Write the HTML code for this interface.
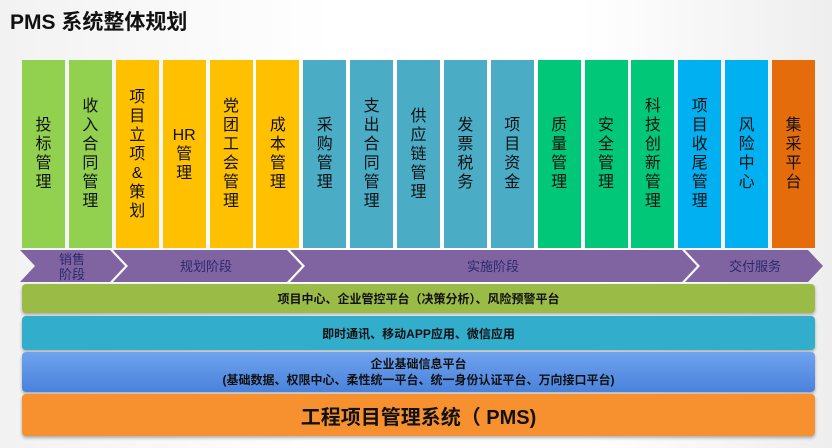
<!DOCTYPE html>
<html><head><meta charset="utf-8"><style>
body{margin:0;width:832px;height:448px;overflow:hidden;background:linear-gradient(90deg,#f2f2f2,#fff 40%,#fff 70%,#eee);font-family:"Liberation Sans","Noto Sans CJK SC",sans-serif;position:relative}
.t{position:absolute;left:10px;top:6px;font-size:21px;font-weight:bold;color:#111}
.c{position:absolute;top:60px;width:43px;height:188px;display:flex;flex-direction:column;justify-content:center;align-items:center;font-size:16px;line-height:19px;color:#111}
.c div{text-align:center}
.l{position:absolute;left:22px;width:793px;border-radius:4px;display:flex;flex-direction:column;justify-content:center;align-items:center;font-weight:bold;color:#111;box-shadow:0 2px 3px rgba(0,0,0,.3)}
</style></head><body>
<div class="t">PMS 系统整体规划</div>
<div id="cols"></div>
<svg width="832" height="448" style="position:absolute;left:0;top:0">
<g fill="#8064A2">
<polygon points="20,250 110,250 125,266 110,282 20,282 35,266"/>
<polygon points="113,250 287,250 302,266 287,282 113,282 128,266"/>
<polygon points="290,250 682,250 697,266 682,282 290,282 305,266"/>
<polygon points="685,250 808,250 823,266 808,282 685,282 700,266"/>
</g>
<g font-size="13" fill="#2a2a6a" text-anchor="middle" font-family="Liberation Sans,Noto Sans CJK SC,sans-serif">
<text x="72" y="264">销售</text><text x="72" y="279">阶段</text>
<text x="206" y="271">规划阶段</text>
<text x="493" y="271">实施阶段</text>
<text x="755" y="271">交付服务</text>
</g></svg>
<div class="l" style="top:284px;height:29px;background:#9BBB47;font-size:12px">项目中心、企业管控平台（决策分析）、风险预警平台</div>
<div class="l" style="top:316px;height:34px;background:#33ADCC;font-size:12px">即时通讯、移动APP应用、微信应用</div>
<div class="l" style="top:352px;height:40px;background:linear-gradient(#6fa3ee,#4a82dc);font-size:12px;line-height:16px"><div>企业基础信息平台</div><div>(基础数据、权限中心、柔性统一平台、统一身份认证平台、万向接口平台)</div></div>
<div class="l" style="top:394px;height:42px;background:#F7902F;font-size:20px">工程项目管理系统（ PMS)</div>
<script>
var d=[["投标管理","#92D050"],["收入合同管理","#92D050"],["项目立项&策划","#FFC000"],["HR|管|理","#FFC000"],["党团工会管理","#FFC000"],["成本管理","#FFC000"],["采购管理","#4BACC6"],["支出合同管理","#4BACC6"],["供应链管理","#4BACC6"],["发票税务","#4BACC6"],["项目资金","#4BACC6"],["质量管理","#00C878"],["安全管理","#00C878"],["科技创新管理","#00C878"],["项目收尾管理","#00B0F0"],["风险中心","#00B0F0"],["集采平台","#E46C0A"]];
var h="";d.forEach(function(x,i){var p=x[0].indexOf("|")>=0?x[0].split("|"):x[0].split("");h+='<div class="c" style="left:'+(22+i*46.875)+'px;background:'+x[1]+'">'+p.map(function(s){return"<div>"+s+"</div>"}).join("")+'</div>'});
document.getElementById("cols").innerHTML=h;
</script>
</body></html>
